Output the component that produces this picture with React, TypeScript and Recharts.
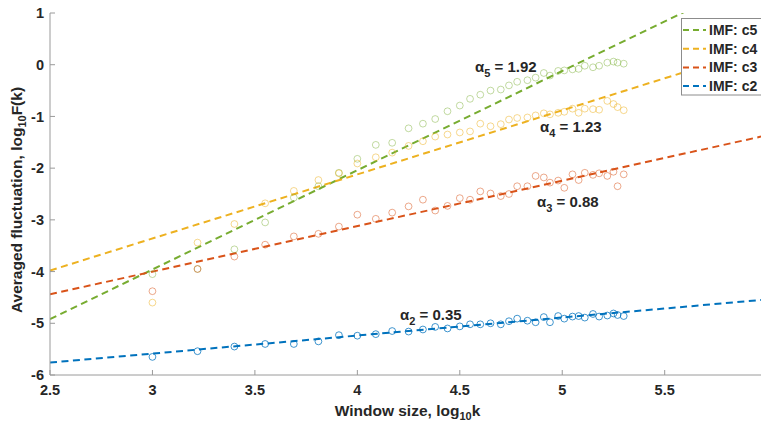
import React from "react";
import { ComposedChart, XAxis, YAxis, Scatter, Line, Label } from "recharts";

// log10 of window size (shared by all IMFs)
const windowLog = [
  3.0, 3.22, 3.4, 3.55, 3.69, 3.81, 3.91, 4.0, 4.09, 4.17, 4.25, 4.32, 4.38, 4.44, 4.5, 4.55, 4.6, 4.65,
  4.7, 4.74, 4.78, 4.83, 4.87, 4.91, 4.94, 4.98, 5.01, 5.05, 5.08, 5.11, 5.15, 5.18, 5.22, 5.25, 5.27, 5.3,
];

const c5Points = [
  -4.05, -3.95, -3.57, -3.05, -2.57, -2.35, -2.09, -1.82, -1.55, -1.51, -1.23, -1.14, -1.05, -0.9, -0.79, -0.66, -0.58, -0.5,
  -0.48, -0.4, -0.33, -0.3, -0.25, -0.16, -0.21, -0.12, -0.11, -0.09, -0.08, -0.02, -0.05, -0.02, 0.04, 0.06, 0.04, 0.02,
];
const c4Points = [
  -4.6, -3.44, -3.08, -2.68, -2.44, -2.23, -2.1, -1.91, -1.79, -1.7, -1.57, -1.48, -1.39, -1.35, -1.31, -1.29, -1.14, -1.19,
  -1.15, -1.06, -1.03, -1.02, -0.98, -0.94, -0.96, -0.93, -0.91, -0.85, -0.93, -0.85, -0.86, -0.87, -0.7, -0.76, -0.82, -0.88,
];
const c3Points = [
  -4.38, -3.95, -3.71, -3.48, -3.32, -3.27, -3.13, -2.9, -2.98, -2.86, -2.74, -2.61, -2.82, -2.73, -2.58, -2.61, -2.45, -2.49,
  -2.54, -2.5, -2.35, -2.35, -2.15, -2.18, -2.28, -2.24, -2.38, -2.12, -2.23, -2.09, -2.13, -2.1, -2.15, -2.07, -2.35, -2.12,
];
const c2Points = [
  -5.65, -5.54, -5.45, -5.4, -5.4, -5.35, -5.23, -5.24, -5.21, -5.15, -5.16, -5.12, -5.07, -5.1, -5.06, -5.02, -5.02, -5.0,
  -5.02, -4.96, -4.91, -4.95, -4.98, -4.88, -4.98, -4.86, -4.91, -4.87, -4.86, -4.89, -4.82, -4.87, -4.85, -4.81, -4.84, -4.86,
];

// fitted lines: value at x = 2.5 and at the right edge
const fitX = [2.5, 5.97];
const c5Fit = [-4.92, 1.74];
const c4Fit = [-3.98, 0.32];
const c3Fit = [-4.44, -1.39];
const c2Fit = [-5.76, -4.55];

const names = ["IMF: c5", "IMF: c4", "IMF: c3", "IMF: c2"];
const slopes = ["1.92", "1.23", "0.88", "0.35"];
const subs = ["5", "4", "3", "2"];

const xTicks = [2.5, 3, 3.5, 4, 4.5, 5, 5.5];
const yTicks = [-6, -5, -4, -3, -2, -1, 0, 1];

const COLORS = ["#77AC30", "#EDB120", "#D95319", "#0072BD"];
const MARKER_OPACITY = [0.45, 0.5, 0.5, 0.75];
const FONT = "'Liberation Sans', Arial, sans-serif";
const AXIS = "#9a9a9a";
const TEXT = "#262626";

const pointSets = [c5Points, c4Points, c3Points, c2Points];
const fitSets = [c5Fit, c4Fit, c3Fit, c2Fit];

const scatterData = pointSets.map((pts) => windowLog.map((x, i) => ({ x, y: pts[i] })));
const fitData = fitSets.map((f) => fitX.map((x, i) => ({ x, y: f[i] })));

// annotation anchors (page pixels, baseline)
const annot = [
  { left: 475, base: 71.5 },
  { left: 540, base: 131.5 },
  { left: 537, base: 206.5 },
  { left: 400, base: 320 },
];

const TICK_MARGIN_X = 10;
const TICK_MARGIN_Y = 5;

// MATLAB style ticks pointing into the plot
function XTick({ x, y, payload }: any) {
  const axisY = y - TICK_MARGIN_X;
  return (
    <g>
      <line x1={x} x2={x} y1={axisY} y2={axisY - 5} stroke={AXIS} />
      <text x={x} y={y} dy="0.71em" textAnchor="middle" fill={TEXT} fontSize={14.5} fontWeight="bold" fontFamily={FONT}>
        {payload.value}
      </text>
    </g>
  );
}

function YTick({ x, y, payload }: any) {
  const axisX = x + TICK_MARGIN_Y;
  return (
    <g>
      <line x1={axisX} x2={axisX + 5} y1={y} y2={y} stroke={AXIS} />
      <text x={x - 1} y={y} dy="0.355em" textAnchor="end" fill={TEXT} fontSize={14.5} fontWeight="bold" fontFamily={FONT}>
        {payload.value}
      </text>
    </g>
  );
}

function XTitle({ viewBox }: any) {
  const cx = viewBox.x + viewBox.width / 2 + 2;
  return (
    <text x={cx} y={viewBox.y + 41} textAnchor="middle" fill={TEXT} fontSize={15.5} fontWeight="bold" fontFamily={FONT}>
      <tspan>Window size, log</tspan>
      <tspan dy={4} fontSize={11}>10</tspan>
      <tspan dy={-4}>k</tspan>
    </text>
  );
}

function YTitle({ viewBox }: any) {
  const cy = viewBox.y + viewBox.height / 2 + 6;
  const bx = 22;
  return (
    <text
      x={bx}
      y={cy}
      transform={`rotate(-90, ${bx}, ${cy})`}
      textAnchor="middle"
      fill={TEXT}
      fontSize={15.5}
      fontWeight="bold"
      fontFamily={FONT}
    >
      <tspan>Averaged fluctuation, log</tspan>
      <tspan dy={4} fontSize={11}>10</tspan>
      <tspan dy={-4}>F(k)</tspan>
    </text>
  );
}

const ring = (color: string, opacity: number) => (p: any) =>
  <circle cx={p.cx} cy={p.cy} r={3.4} fill="none" stroke={color} strokeOpacity={opacity} strokeWidth={1} />;

export default function App() {
  return (
    <div style={{ position: "absolute", left: 0, top: 0, width: 761, height: 425, overflow: "hidden", background: "#fff" }}>
      <ComposedChart width={761} height={425} margin={{ top: 13, right: 0, bottom: 0, left: 0 }}>
        <XAxis
          type="number"
          dataKey="x"
          domain={[2.5, 5.97]}
          allowDataOverflow
          ticks={xTicks}
          interval={0}
          height={50}
          stroke={AXIS}
          tickLine={false}
          tickSize={0}
          tickMargin={TICK_MARGIN_X}
          tick={<XTick />}
        >
          <Label content={<XTitle />} />
        </XAxis>
        <YAxis
          type="number"
          dataKey="y"
          domain={[-6, 1]}
          allowDataOverflow
          ticks={yTicks}
          interval={0}
          width={50}
          stroke={AXIS}
          tickLine={false}
          tickSize={0}
          tickMargin={TICK_MARGIN_Y}
          tick={<YTick />}
        >
          <Label content={<YTitle />} />
        </YAxis>
        {scatterData.map((d, i) => (
          <Scatter
            key={"s" + i}
            name={names[i]}
            data={d}
            dataKey="y"
            isAnimationActive={false}
            shape={ring(COLORS[i], MARKER_OPACITY[i])}
          />
        ))}
        {fitData.map((d, i) => (
          <Line
            key={"l" + i}
            name={names[i]}
            data={d}
            dataKey="y"
            type="linear"
            stroke={COLORS[i]}
            strokeWidth={2}
            strokeDasharray="7 4.5"
            dot={false}
            activeDot={false}
            isAnimationActive={false}
          />
        ))}
      </ComposedChart>
      <svg width={761} height={425} style={{ position: "absolute", left: 0, top: 0, pointerEvents: "none" }}>
        {annot.map((a, i) => (
          <text key={i} x={a.left} y={a.base} fill={TEXT} fontSize={15} fontWeight="bold" fontFamily={FONT}>
            <tspan>α</tspan>
            <tspan dy={5} fontSize={11}>{subs[i]}</tspan>
            <tspan dy={-5}>{" = " + slopes[i]}</tspan>
          </text>
        ))}
        <rect x={681.5} y={18.5} width={100} height={76.5} fill="#fff" stroke="#8c8c8c" />
        {names.map((n, i) => {
          const cy = 30 + i * 18.7;
          return (
            <g key={n}>
              <line x1={683} x2={706} y1={cy} y2={cy} stroke={COLORS[i]} strokeWidth={2} strokeDasharray="6 4" />
              <text x={709} y={cy + 5} fill={TEXT} fontSize={14} fontWeight="bold" fontFamily={FONT}>
                {n}
              </text>
            </g>
          );
        })}
      </svg>
    </div>
  );
}
